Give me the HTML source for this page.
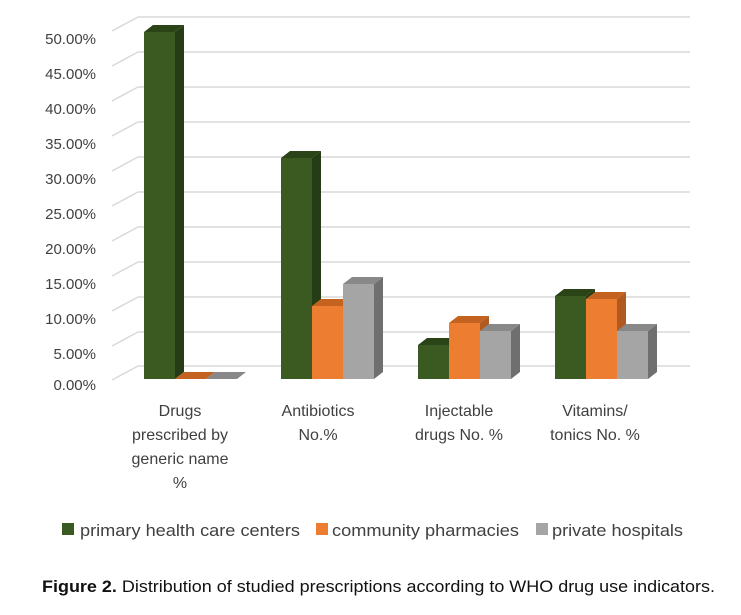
<!DOCTYPE html>
<html><head><meta charset="utf-8"><style>
body{margin:0;background:#fff;}
svg{display:block;font-family:"Liberation Sans",sans-serif;}
</style></head><body>
<svg width="741" height="615" viewBox="0 0 741 615">
<g stroke="#d9d9d9" stroke-width="1.5" fill="none">
<line x1="138" y1="17" x2="690" y2="17"/><line x1="112" y1="31" x2="138" y2="17"/>
<line x1="138" y1="52" x2="690" y2="52"/><line x1="112" y1="66" x2="138" y2="52"/>
<line x1="138" y1="87" x2="690" y2="87"/><line x1="112" y1="101" x2="138" y2="87"/>
<line x1="138" y1="122" x2="690" y2="122"/><line x1="112" y1="136" x2="138" y2="122"/>
<line x1="138" y1="157" x2="690" y2="157"/><line x1="112" y1="171" x2="138" y2="157"/>
<line x1="138" y1="192" x2="690" y2="192"/><line x1="112" y1="206" x2="138" y2="192"/>
<line x1="138" y1="227" x2="690" y2="227"/><line x1="112" y1="241" x2="138" y2="227"/>
<line x1="138" y1="262" x2="690" y2="262"/><line x1="112" y1="276" x2="138" y2="262"/>
<line x1="138" y1="297" x2="690" y2="297"/><line x1="112" y1="311" x2="138" y2="297"/>
<line x1="138" y1="332" x2="690" y2="332"/><line x1="112" y1="346" x2="138" y2="332"/>
<line x1="138" y1="366" x2="690" y2="366"/><line x1="112" y1="380" x2="138" y2="366"/>
</g>
<g font-size="15" fill="#404040" text-anchor="end">
<text x="96" y="44">50.00%</text><text x="96" y="79">45.00%</text><text x="96" y="114">40.00%</text>
<text x="96" y="149">35.00%</text><text x="96" y="184">30.00%</text><text x="96" y="219">25.00%</text>
<text x="96" y="254">20.00%</text><text x="96" y="289">15.00%</text><text x="96" y="324">10.00%</text>
<text x="96" y="359">5.00%</text><text x="96" y="390">0.00%</text>
</g>
<!-- Group 1 -->
<polygon points="175,32 184,25 184,372 175,379" fill="#253c16"/>
<polygon points="144,32 153,25 184,25 175,32" fill="#2a4418"/>
<rect x="144" y="32" width="31" height="347" fill="#3b5a22"/>
<polygon points="175,379 184,372 215,372 206,379" fill="#c4621f"/>
<polygon points="206,379 215,372 246,372 237,379" fill="#888"/>
<!-- Group 2 -->
<polygon points="312,158 321,151 321,372 312,379" fill="#253c16"/>
<polygon points="281,158 290,151 321,151 312,158" fill="#2a4418"/>
<rect x="281" y="158" width="31" height="221" fill="#3b5a22"/>
<polygon points="343,306 352,299 352,372 343,379" fill="#b05a1f"/>
<polygon points="312,306 321,299 352,299 343,306" fill="#c4621f"/>
<rect x="312" y="306" width="31" height="73" fill="#ed7d31"/>
<polygon points="374,284 383,277 383,372 374,379" fill="#6f6f6f"/>
<polygon points="343,284 352,277 383,277 374,284" fill="#888"/>
<rect x="343" y="284" width="31" height="95" fill="#a5a5a5"/>
<!-- Group 3 -->
<polygon points="449,345 458,338 458,372 449,379" fill="#253c16"/>
<polygon points="418,345 427,338 458,338 449,345" fill="#2a4418"/>
<rect x="418" y="345" width="31" height="34" fill="#3b5a22"/>
<polygon points="480,323 489,316 489,372 480,379" fill="#b05a1f"/>
<polygon points="449,323 458,316 489,316 480,323" fill="#c4621f"/>
<rect x="449" y="323" width="31" height="56" fill="#ed7d31"/>
<polygon points="511,331 520,324 520,372 511,379" fill="#6f6f6f"/>
<polygon points="480,331 489,324 520,324 511,331" fill="#888"/>
<rect x="480" y="331" width="31" height="48" fill="#a5a5a5"/>
<!-- Group 4 -->
<polygon points="586,296 595,289 595,372 586,379" fill="#253c16"/>
<polygon points="555,296 564,289 595,289 586,296" fill="#2a4418"/>
<rect x="555" y="296" width="31" height="83" fill="#3b5a22"/>
<polygon points="617,299 626,292 626,372 617,379" fill="#b05a1f"/>
<polygon points="586,299 595,292 626,292 617,299" fill="#c4621f"/>
<rect x="586" y="299" width="31" height="80" fill="#ed7d31"/>
<polygon points="648,331 657,324 657,372 648,379" fill="#6f6f6f"/>
<polygon points="617,331 626,324 657,324 648,331" fill="#888"/>
<rect x="617" y="331" width="31" height="48" fill="#a5a5a5"/>

<g font-size="16" fill="#404040" text-anchor="middle">
<text x="180" y="416">Drugs</text><text x="180" y="440">prescribed by</text><text x="180" y="464">generic name</text><text x="180" y="488">%</text>
<text x="318" y="416">Antibiotics</text><text x="318" y="440">No.%</text>
<text x="459" y="416">Injectable</text><text x="459" y="440">drugs No. %</text>
<text x="595" y="416">Vitamins/</text><text x="595" y="440">tonics No. %</text>
</g>
<rect x="62" y="523" width="12" height="12" fill="#3b5a22"/>
<rect x="316" y="523" width="12" height="12" fill="#ed7d31"/>
<rect x="536" y="523" width="12" height="12" fill="#a5a5a5"/>
<g font-size="17" fill="#404040">
<text x="80" y="536" textLength="220" lengthAdjust="spacingAndGlyphs">primary health care centers</text>
<text x="332" y="536" textLength="187" lengthAdjust="spacingAndGlyphs">community pharmacies</text>
<text x="552" y="536" textLength="131" lengthAdjust="spacingAndGlyphs">private hospitals</text>
</g>
<text x="42" y="592" font-size="17" fill="#111" textLength="673" lengthAdjust="spacingAndGlyphs"><tspan font-weight="bold">Figure 2.</tspan> Distribution of studied prescriptions according to WHO drug use indicators.</text>
</svg>
</body></html>
